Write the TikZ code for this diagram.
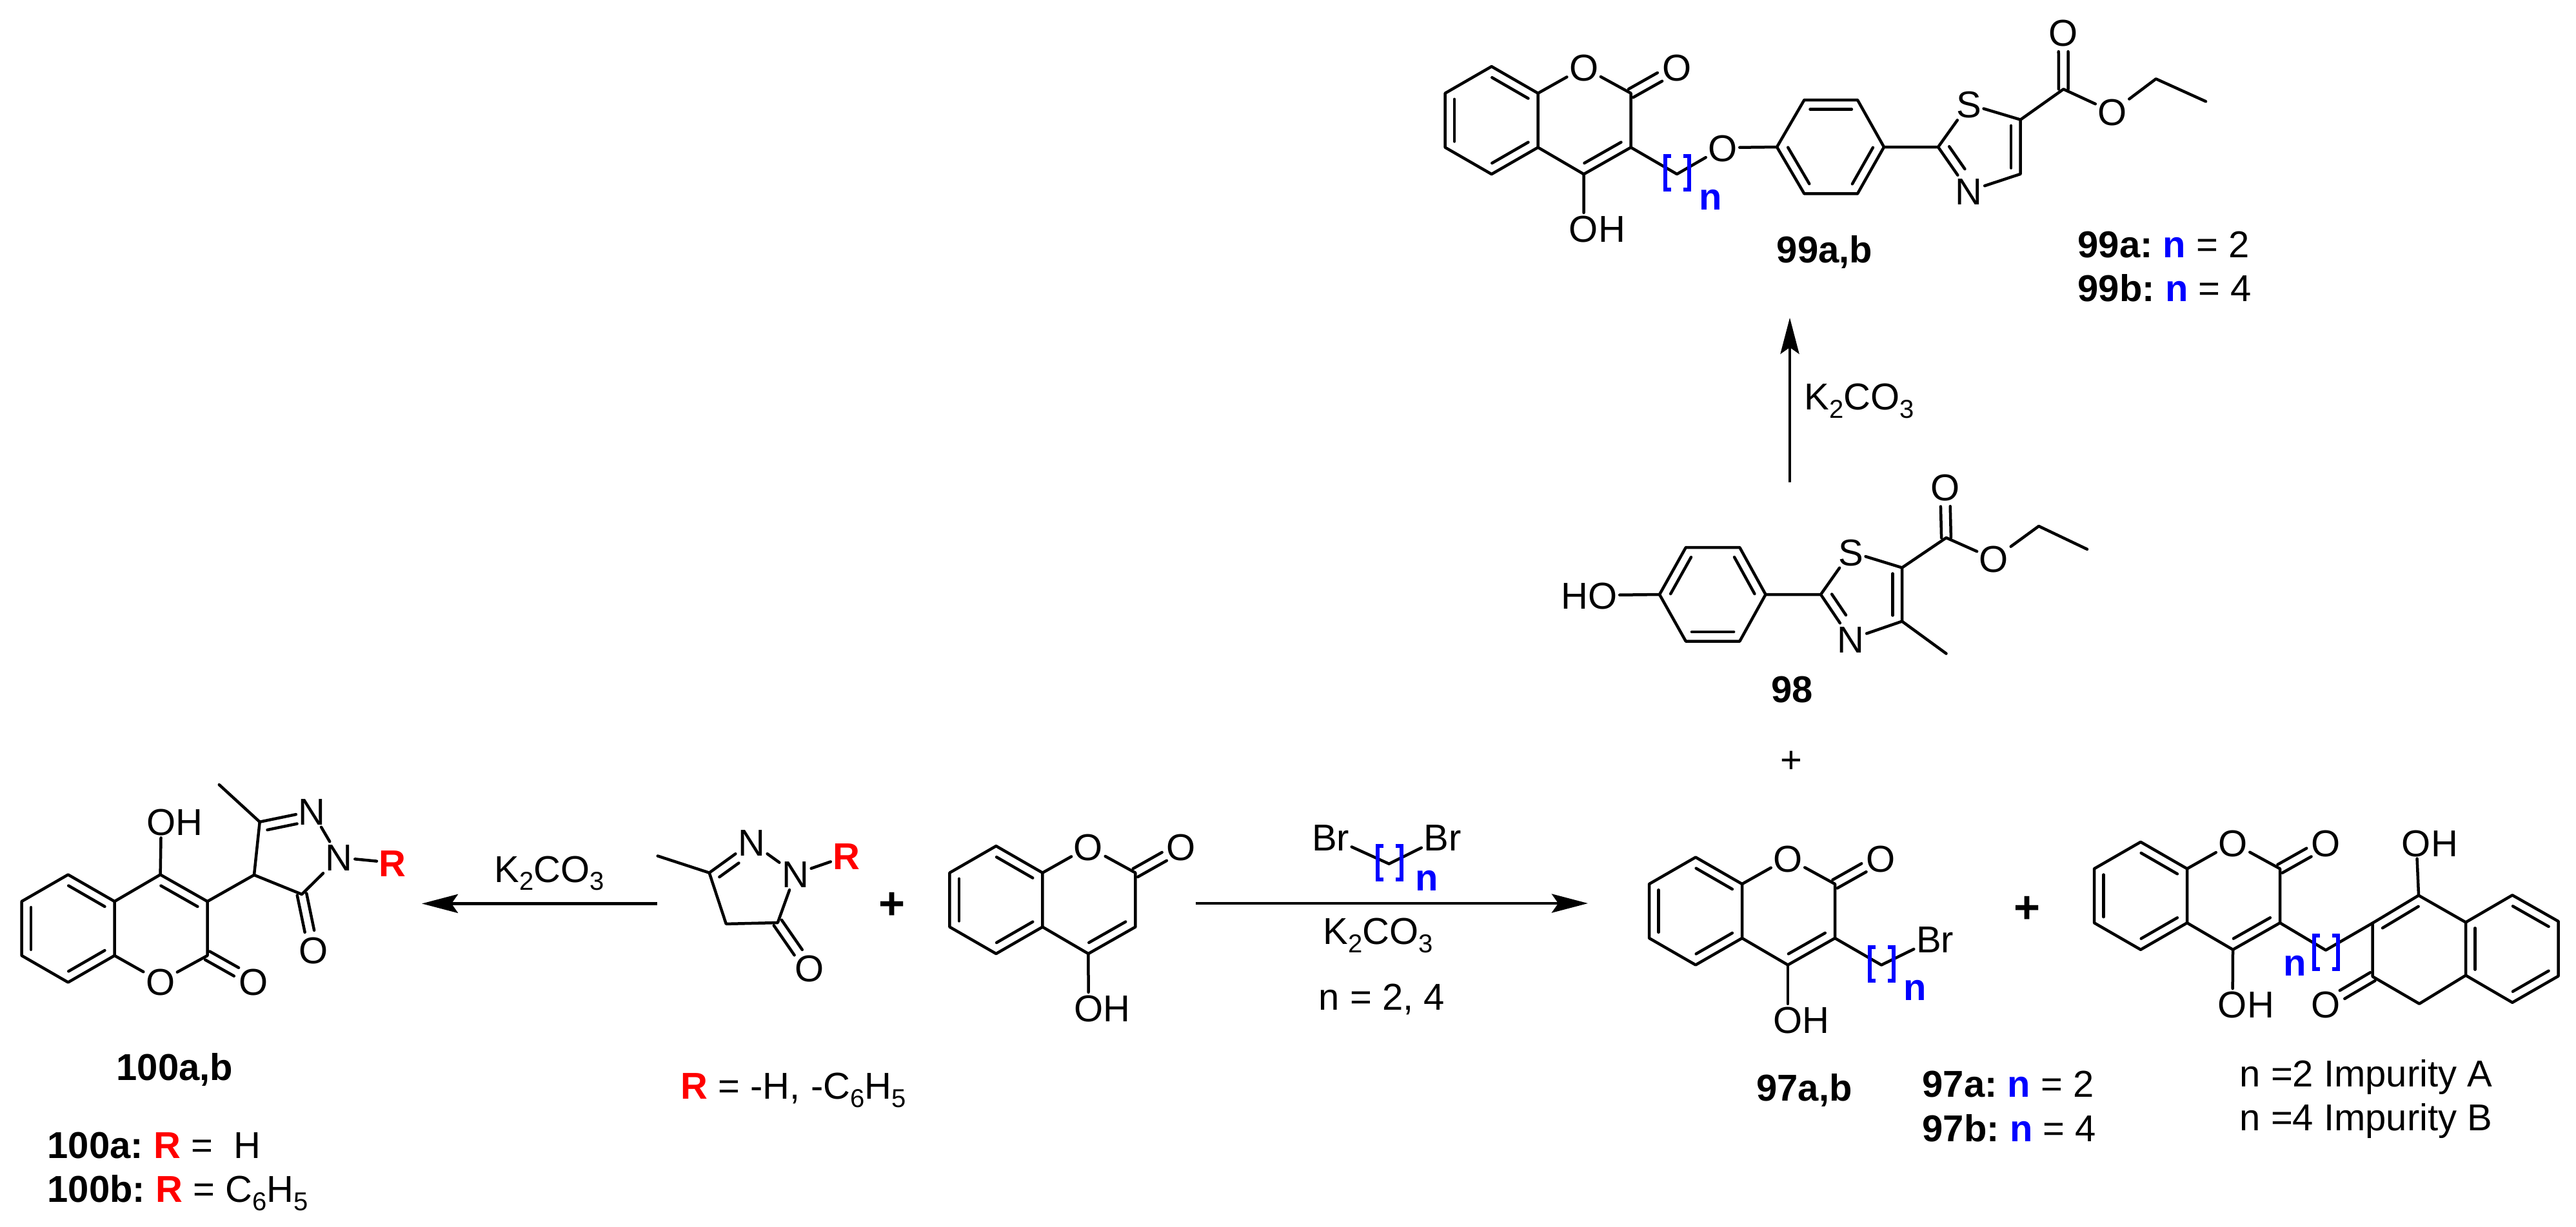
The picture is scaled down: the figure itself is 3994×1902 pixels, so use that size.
\documentclass[tikz,border=0pt]{standalone}
\usepackage{fontspec}
\usepackage{xcolor}
\usepackage{tikz}
\usetikzlibrary{arrows.meta,calc}
\setmainfont{Liberation Sans}

\newcommand{\lowr}[1]{\raisebox{-1.27mm}{\fontsize{11.4}{12}\selectfont #1}}
\newcommand{\bn}{\textbf{\textcolor{blue}{n}}}
\newcommand{\br}{\textbf{\textcolor{red}{R}}}
% inner line of a double bond: [end fraction]{from}{to}{side}
\newcommand{\dbond}[4][0.11]{\draw[bond] ($(#2)!0.11!(#3)!1.45mm!#4:(#3)$) -- ($(#3)!#1!(#2)!1.45mm!\the\numexpr-#4\relax:(#2)$);}
% C=O
\newcommand{\cobond}[2]{
    \draw[bond] ($(#1)!0.74mm!90:(#2)$) -- ($(#2)!3mm!(#1)!0.74mm!-90:(#1)$);
    \draw[bond] ($(#1)!0.74mm!-90:(#2)$) -- ($(#2)!3mm!(#1)!0.74mm!90:(#1)$);
}
\newcommand{\nbracket}[2]{
    \begin{scope}[shift={($(#1)+(0,#2)$)}]
        \draw[brk] (-9,-28) -- (-18,-28) -- (-18,24) -- (-9,24);
        \draw[brk] (10,-28) -- (19,-28) -- (19,24) -- (10,24);
    \end{scope}
}
% {prefix}{x,y of the upper left vertex}{90 or -90 when flipped}
\newcommand{\coumarin}[3]{
    \begin{scope}[shift={(#2)},yscale=#3/90]
        \coordinate (#11) at (0,0);
        \coordinate (#12) at (72,-41.5);
        \coordinate (#13) at (144,0);
        \coordinate (#14) at (144,84);
        \coordinate (#15) at (72,125.5);
        \coordinate (#16) at (0,84);
        \coordinate (#1c2) at (288,0);
        \coordinate (#1c3) at (288,84);
        \coordinate (#1c4) at (215,125.5);
        \node[atom] (#1o) at (215,-40) {O};
        \node[atom] (#1x) at (359,-40) {O};
    \end{scope}
    \draw[bond] (#11) -- (#12) -- (#13) -- (#14) -- (#15) -- (#16) -- cycle;
    \draw[bond] (#13) -- (#1o) -- (#1c2) -- (#1c3) -- (#1c4) -- (#14);
    \dbond{#11}{#16}{#3}
    \dbond{#15}{#14}{#3}
    \dbond{#13}{#12}{#3}
    \dbond{#1c4}{#1c3}{#3}
    \cobond{#1c2}{#1x}
}

\begin{document}
\begin{tikzpicture}[
        x=0.1mm, y=-0.1mm,
        >={Stealth[length=5.6mm,width=2.9mm,inset=1mm]},
        every node/.style={font=\fontsize{16.5}{19}\selectfont\frenchspacing},
        bond/.style={line width=0.45mm, line cap=round, line join=round},
        brk/.style={draw=blue, line width=0.6mm},
        rxn/.style={->, line width=0.48mm},
        atom/.style={inner sep=0.3mm, text height=4.2mm, text depth=0pt},
        lbl/.style={inner sep=0pt, anchor=base west},
        num/.style={inner sep=0pt, anchor=base, font=\fontsize{16.5}{19}\selectfont\bfseries},
        plusbig/.style={inner sep=0pt, font=\fontsize{20}{22}\selectfont\bfseries}
    ]
    \useasboundingbox (0,0) rectangle (3994,1902);

    % 99
    \coumarin{top}{2240.6,144.6}{90}
    \node[atom] (topoh) at (2455.5,354.6) {O\rlap{H}};
    \coordinate (topch) at (2600,270);
    \node[atom] (topeth) at (2671,229) {O};
    \coordinate (ph1) at (2755,228);
    \coordinate (ph2) at (2797.4,155);
    \coordinate (ph3) at (2880,155);
    \coordinate (ph4) at (2921,228);
    \coordinate (ph5) at (2880,300.4);
    \coordinate (ph6) at (2797.4,300.4);
    \coordinate (thc2) at (3005,228);
    \node[atom] (ths) at (3052.5,161.6) {S};
    \node[atom] (thn) at (3052.5,296.3) {N};
    \coordinate (thc5) at (3132.7,185.6);
    \coordinate (thc4) at (3132.7,269.8);
    \coordinate (est) at (3199.3,138.3);
    \node[atom] (estx) at (3199,50) {O};
    \node[atom] (esto) at (3275,173.3) {O};
    \coordinate (etha) at (3342.7,122.3);
    \coordinate (ethb) at (3420,157.3);
    \draw[bond] (topc4) -- (topoh);
    \draw[bond] (topc3) -- (topch) -- (topeth) -- (ph1);
    \draw[bond] (ph1) -- (ph2) -- (ph3) -- (ph4) -- (ph5) -- (ph6) -- cycle;
    \dbond{ph3}{ph2}{90}
    \dbond{ph1}{ph6}{90}
    \dbond{ph5}{ph4}{90}
    \draw[bond] (ph4) -- (thc2) -- (ths) -- (thc5) -- (thc4) -- (thn) -- (thc2);
    \dbond[0.38]{thc2}{thn}{90}
    \dbond{thc4}{thc5}{90}
    \draw[bond] (thc5) -- (est) -- (esto) -- (etha) -- (ethb);
    \cobond{est}{estx}
    \nbracket{topch}{0}
    \node[num, text=blue] (topn) at (2652,325) {n};
    \node[num] (lab99) at (2829,407.5) {99a,b};
    \node[lbl] (lab99a) at (3221,399) {\textbf{99a:} \bn{} = 2};
    \node[lbl] (lab99b) at (3221,467.7) {\textbf{99b:} \bn{} = 4};

    % 98
    \node[atom] (hoa) at (2485,923) {\llap{H}O};
    \coordinate (qa) at (2573,922);
    \coordinate (qb) at (2613.8,849);
    \coordinate (qc) at (2697.3,849);
    \coordinate (qd) at (2737.5,922);
    \coordinate (qe) at (2697.3,994.6);
    \coordinate (qf) at (2613.8,994.6);
    \coordinate (uc2) at (2823,922);
    \node[atom] (us) at (2869.5,856) {S};
    \node[atom] (un) at (2869.5,991) {N};
    \coordinate (uc5) at (2949,880.4);
    \coordinate (uc4) at (2949,963.6);
    \coordinate (ume) at (3017.5,1013.6);
    \coordinate (fest) at (3017.5,834);
    \node[atom] (festx) at (3015.6,755.4) {O};
    \node[atom] (festo) at (3091.4,866.8) {O};
    \coordinate (feta) at (3161,816);
    \coordinate (fetb) at (3236,851.8);
    \draw[bond] (hoa) -- (qa);
    \draw[bond] (qa) -- (qb) -- (qc) -- (qd) -- (qe) -- (qf) -- cycle;
    \dbond{qb}{qa}{90}
    \dbond{qd}{qc}{90}
    \dbond{qf}{qe}{90}
    \draw[bond] (qd) -- (uc2) -- (us) -- (uc5) -- (uc4) -- (un) -- (uc2);
    \dbond[0.42]{uc2}{un}{90}
    \dbond{uc4}{uc5}{90}
    \draw[bond] (uc4) -- (ume);
    \draw[bond] (uc5) -- (fest) -- (festo) -- (feta) -- (fetb);
    \cobond{fest}{festx}
    \node[num] (lab98) at (2778.3,1089) {98};
    \node[inner sep=0pt] (plusa) at (2777,1182) {+};

    % 97
    \coumarin{brm}{2557,1371}{90}
    \node[atom] (brmoh) at (2772,1581.5) {O\rlap{H}};
    \coordinate (brmch) at (2917,1496.6);
    \node[atom] (brmbr) at (3000,1456) {Br};
    \draw[bond] (brmc4) -- (brmoh);
    \draw[bond] (brmc3) -- (brmch) -- (brmbr);
    \nbracket{brmch}{0}
    \node[num, text=blue] (brmn) at (2969,1551) {n};
    \node[num] (lab97) at (2797.5,1707) {97a,b};
    \node[lbl] (lab97a) at (2980,1701.3) {\textbf{97a:} \bn{} = 2};
    \node[lbl] (lab97b) at (2980,1770) {\textbf{97b:} \bn{} = 4};
    \node[plusbig] (plusb) at (3142.8,1411) {+};

    % impurity
    \coumarin{imp}{3247,1347.3}{90}
    \node[atom] (impoh) at (3461.5,1557.8) {O\rlap{H}};
    \coordinate (impch) at (3606,1473.6);
    \coordinate (da) at (3678.7,1431.5);
    \coordinate (db) at (3750,1388.7);
    \coordinate (dc) at (3823,1430.4);
    \coordinate (dd) at (3823,1512.7);
    \coordinate (de) at (3751,1556.7);
    \coordinate (df) at (3678.7,1514.6);
    \coordinate (dg) at (3895.3,1388.3);
    \coordinate (dh) at (3966.6,1428.9);
    \coordinate (di) at (3966.6,1513.8);
    \coordinate (dj) at (3895.3,1554.8);
    \node[atom] (doh) at (3746.5,1307) {O\rlap{H}};
    \node[atom] (dox) at (3605.7,1557.8) {O};
    \draw[bond] (impc4) -- (impoh);
    \draw[bond] (impc3) -- (impch) -- (da);
    \draw[bond] (da) -- (db) -- (dc) -- (dd) -- (de) -- (df) -- cycle;
    \draw[bond] (dc) -- (dg) -- (dh) -- (di) -- (dj) -- (dd);
    \draw[bond] (db) -- (doh);
    \dbond{db}{da}{90}
    \dbond{dc}{dd}{90}
    \dbond{dh}{dg}{90}
    \dbond{dj}{di}{90}
    \cobond{df}{dox}
    \nbracket{impch}{5}
    \node[num, text=blue] (impn) at (3558,1513.8) {n};
    \node[lbl] (impa) at (3472,1685) {n =2 Impurity A};
    \node[lbl] (impb) at (3472,1753) {n =4 Impurity B};

    % Br chain + arrow
    \node[atom] (bra) at (2063,1298.6) {Br};
    \node[atom] (brb) at (2236.5,1298.6) {Br};
    \coordinate (rch) at (2153.6,1339.7);
    \draw[bond] (bra) -- (rch) -- (brb);
    \nbracket{rch}{0}
    \node[num, text=blue] (rn) at (2212,1381.8) {n};
    \coordinate (arma) at (1853.6,1401);
    \coordinate (armb) at (2462,1401);
    \draw[rxn] (arma) -- (armb);
    \node[lbl] (kmid) at (2051,1464.7) {K\lowr{2}CO\lowr{3}};
    \node[lbl] (nval) at (2044,1566) {n = 2, 4};

    % 4-hydroxycoumarin
    \coumarin{cou}{1472.4,1353.6}{90}
    \node[atom] (couoh) at (1687.6,1563.6) {O\rlap{H}};
    \draw[bond] (couc4) -- (couoh);
    \node[plusbig] (plusc) at (1383.3,1404.6) {+};

    % pyrazolone
    \coordinate (pzme) at (1019.7,1327.5);
    \coordinate (pzc3) at (1099.7,1353.6);
    \node[atom] (pzn1) at (1165,1306.4) {N};
    \node[atom] (pzn2) at (1233,1355.4) {N};
    \node[atom] (pzr) at (1312.4,1327.9) {\br};
    \coordinate (pzc5) at (1205.8,1431);
    \coordinate (pzc4) at (1125.8,1432.9);
    \node[atom] (pzo) at (1254.8,1501.8) {O};
    \draw[bond] (pzme) -- (pzc3) -- (pzn1) -- (pzn2) -- (pzc5) -- (pzc4) -- (pzc3);
    \draw[bond] (pzn2) -- (pzr);
    \dbond[0.43]{pzc3}{pzn1}{-90}
    \cobond{pzc5}{pzo}
    \node[lbl] (rval) at (1055,1704.6) {\br{} = -H, -C\lowr{6}H\lowr{5}};

    % left arrow
    \coordinate (arla) at (1018.5,1401.4);
    \coordinate (arlb) at (654,1401.4);
    \draw[rxn] (arla) -- (arlb);
    \node[lbl] (kleft) at (766,1368) {K\lowr{2}CO\lowr{3}};

    % 100
    \coumarin{pro}{33.6,1482}{-90}
    \node[atom] (prooh) at (249.9,1274.7) {O\rlap{H}};
    \coordinate (gch) at (394,1357);
    \coordinate (gc3) at (402.7,1274.7);
    \coordinate (gme) at (339.8,1217);
    \node[atom] (gn1) at (483.5,1258) {N};
    \node[atom] (gn2) at (525.7,1329.9) {N};
    \node[atom] (gr) at (608.7,1338) {\br};
    \coordinate (gc5) at (468,1387);
    \node[atom] (go) at (486,1473.7) {O};
    \draw[bond] (proc4) -- (prooh);
    \draw[bond] (proc3) -- (gch) -- (gc3) -- (gn1) -- (gn2) -- (gc5) -- (gch);
    \draw[bond] (gc3) -- (gme);
    \draw[bond] (gn2) -- (gr);
    \dbond[0.32]{gc3}{gn1}{-90}
    \cobond{gc5}{go}
    \node[num] (lab100) at (271,1675) {100a,b};
    \node[lbl] (lab100a) at (73,1796) {\textbf{100a:} \br{} =\ \ H};
    \node[lbl] (lab100b) at (73,1864.6) {\textbf{100b:} \br{} = C\lowr{6}H\lowr{5}};

    % 98 to 99
    \coordinate (arua) at (2775,748.4);
    \coordinate (arub) at (2775,492.8);
    \draw[rxn] (arua) -- (arub);
    \node[lbl] (ktop) at (2797,635.6) {K\lowr{2}CO\lowr{3}};
\end{tikzpicture}
\end{document}
